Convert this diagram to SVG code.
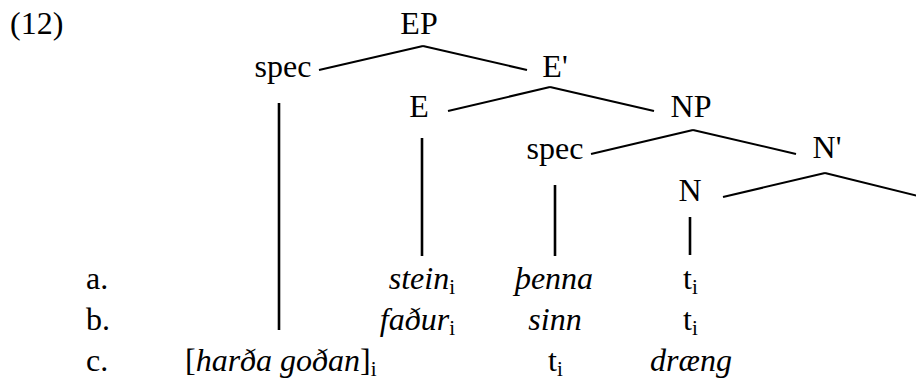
<svg xmlns="http://www.w3.org/2000/svg" width="916" height="380" viewBox="0 0 916 380">
<style>
text{font-family:"Liberation Serif","Times New Roman",serif;font-size:32px;fill:#000}
.m{text-anchor:middle}
.e{text-anchor:end}
.it{font-style:italic}
.sub{font-size:21px;font-style:normal}
.br line{stroke:#000;stroke-width:2}
.vl line{stroke:#000;stroke-width:2.6}
</style>
<rect width="916" height="380" fill="#fff"/>
<text x="10" y="34">(12)</text>
<g id="EP"><text class="m" x="419" y="34">EP</text></g>
<g id="spec1"><text class="m" x="283" y="77">spec</text></g>
<g id="Ebar"><text class="m" x="555" y="77">E'</text></g>
<g id="E"><text class="m" x="419" y="117">E</text></g>
<g id="NP"><text class="m" x="691" y="117">NP</text></g>
<g id="spec2"><text class="m" x="555" y="159">spec</text></g>
<g id="Nbar"><text class="m" x="827" y="158">N'</text></g>
<g id="N"><text class="m" x="690" y="201">N</text></g>
<g id="connectors">
<g class="br">
<line x1="319" y1="70" x2="423" y2="46"/>
<line x1="423" y1="46" x2="527" y2="70"/>
<line x1="448" y1="111" x2="550" y2="87"/>
<line x1="550" y1="87" x2="654" y2="111"/>
<line x1="591" y1="154" x2="693" y2="130"/>
<line x1="693" y1="130" x2="796" y2="154"/>
<line x1="723" y1="197" x2="825" y2="173"/>
<line x1="825" y1="173" x2="918" y2="196"/>
</g>
<g class="vl">
<line x1="279" y1="103" x2="279" y2="330"/>
<line x1="422" y1="138" x2="422" y2="256"/>
<line x1="555" y1="185" x2="555" y2="256"/>
<line x1="690" y1="217" x2="690" y2="255"/>
</g>
</g>
<g id="rowA">
<text x="86" y="289">a.</text>
<text class="e" x="455" y="289"><tspan class="it">stein</tspan><tspan class="sub" dy="5">i</tspan></text>
<text class="m it" x="554" y="289">þenna</text>
<text x="683" y="289">t<tspan class="sub" dy="5">i</tspan></text>
</g>
<g id="rowB">
<text x="86" y="330">b.</text>
<text class="e" x="455" y="330"><tspan class="it">faður</tspan><tspan class="sub" dy="5">i</tspan></text>
<text class="m it" x="555" y="330">sinn</text>
<text x="683" y="330">t<tspan class="sub" dy="5">i</tspan></text>
</g>
<g id="rowC">
<text x="86" y="371">c.</text>
<text x="185" y="371">[<tspan class="it">harða goðan</tspan>]<tspan class="sub" dy="5">i</tspan></text>
<text x="548" y="371">t<tspan class="sub" dy="5">i</tspan></text>
<text class="m it" x="691" y="371">dræng</text>
</g>
</svg>
